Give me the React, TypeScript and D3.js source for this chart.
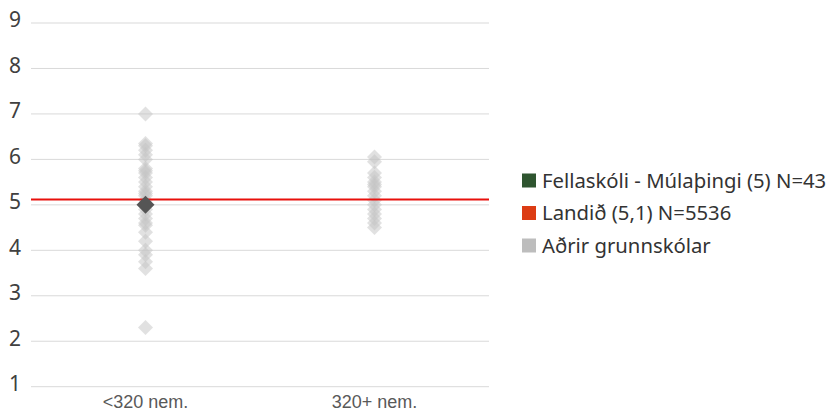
import React from "react";
import * as d3 from "d3";

const categories = ["<320 nem.", "320+ nem."];
const yTicks = [1, 2, 3, 4, 5, 6, 7, 8, 9];
const otherSmall = [7.0, 6.35, 6.3, 6.2, 6.1, 6.0, 5.8, 5.75, 5.7, 5.6, 5.5, 5.4, 5.3, 5.25, 5.2, 5.1, 5.0, 4.9, 4.8, 4.7, 4.6, 4.55, 4.4, 4.2, 4.0, 3.9, 3.75, 3.6, 2.3];
const otherLarge = [6.05, 5.95, 5.7, 5.6, 5.5, 5.45, 5.4, 5.3, 5.2, 5.1, 5.0, 4.9, 4.8, 4.7, 4.6, 4.5];
const schoolCategory = "<320 nem.";
const schoolValue = 5.0;
const nationalValue = 5.12;
const legendLabels = ["Fellaskóli - Múlaþingi (5) N=43", "Landið (5,1) N=5536", "Aðrir grunnskólar"];
const legendColors = ["#2f5530", "#dc3c14", "#bdbdbd"];

const W = 830, H = 411;
const left = 31, right = 489, top = 23, bottom = 386.7;

export default function App() {
  const x = d3.scaleBand().domain(categories).range([left, right]);
  const y = d3.scaleLinear().domain([1, 9]).range([bottom, top]);
  const cx = (c: string) => (x(c) as number) + x.bandwidth() / 2;
  const diamond = (px: number, py: number, r: number) =>
    `M${px},${py - r}L${px + r},${py}L${px},${py + r}L${px - r},${py}Z`;
  const font = "'Noto Sans', 'Open Sans', sans-serif";
  const others = [
    ...otherSmall.map((v) => ({ c: categories[0], v })),
    ...otherLarge.map((v) => ({ c: categories[1], v })),
  ];
  return (
    <svg width={W} height={H} style={{ position: "absolute", left: 0, top: 0 }} fontFamily={font}>
      {yTicks.map((t) => (
        <g key={t}>
          <line x1={left} x2={right} y1={y(t)} y2={y(t)} stroke="#d9d9d9" strokeWidth={1} />
          <text x={15} y={y(t)} dy="0.21em" textAnchor="middle" fontSize={21} fill="#404040">{t}</text>
        </g>
      ))}
      {categories.map((c) => (
        <text key={c} x={cx(c)} y={408} textAnchor="middle" fontSize={18} fontFamily="'Liberation Sans', Arial, sans-serif" fill="#595959">{c}</text>
      ))}
      {others.map((d, i) => (
        <path key={i} d={diamond(cx(d.c), y(d.v), 7.5)} fill="#c4c4c4" fillOpacity={0.5} />
      ))}
      <line x1={left} x2={right} y1={y(nationalValue)} y2={y(nationalValue)} stroke="#e8100c" strokeWidth={2} />
      <path d={diamond(cx(schoolCategory), y(schoolValue), 9)} fill="#555555" />
      {legendLabels.map((l, i) => (
        <g key={l} transform={`translate(522,${180.5 + i * 32.5})`}>
          <rect x={0} y={-7} width={14} height={14} fill={legendColors[i]} />
          <text x={20} y={0} dy="0.36em" fontSize={20.3} fill="#333333">{l}</text>
        </g>
      ))}
    </svg>
  );
}
